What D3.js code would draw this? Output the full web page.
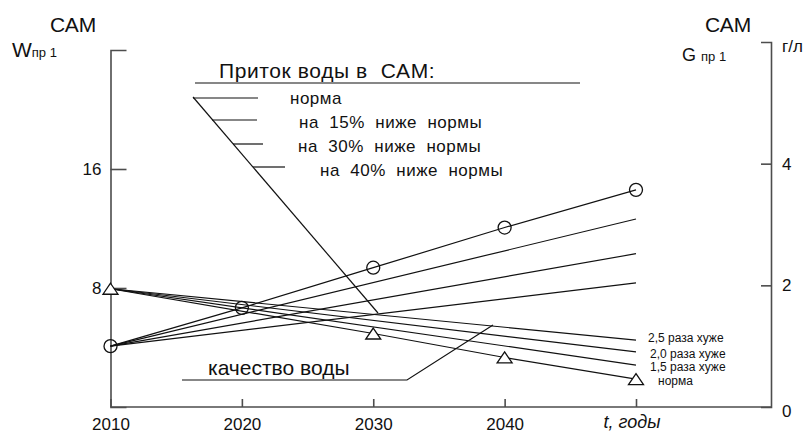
<!DOCTYPE html>
<html><head><meta charset="utf-8">
<script src="https://cdn.jsdelivr.net/npm/d3@7"></script>
<style>
body{margin:0;background:#fff}
svg{display:block;font-family:"Liberation Sans",Arial,sans-serif}
text{white-space:pre;fill:#111}
</style>
</head><body>
<svg id="c" width="806" height="434"></svg>
<script>
// ---- data ----
const years = [2010, 2020, 2030, 2040, 2050];
const xTickLabels = ["2010", "2020", "2030", "2040", ""];
const leftTicks = [8, 16];
const rightTicks = [0, 2, 4];

// rising bundle (G, г/л, right axis) – water inflow scenarios
const inflowLabels = ["норма", "на  15%  ниже  нормы", "на  30%  ниже  нормы", "на  40%  ниже  нормы"];
const gNormaYears = [2010, 2020, 2030, 2040, 2050];
const gNorma = [1.00, 1.63, 2.29, 2.95, 3.57];
const gEndYears = [2010, 2050];
const g15 = [1.00, 3.09];
const g30 = [1.00, 2.52];
const g40 = [1.00, 2.04];

// falling bundle (W, left axis) – water quality scenarios
const qualityLabels = ["2,5 раза хуже", "2,0 раза хуже", "1,5 раза хуже", "норма"];
const wEndYears = [2010, 2050];
const w25 = [7.95, 4.50];
const w20 = [7.95, 3.70];
const w15 = [7.95, 2.82];
const wNormaYears = [2010, 2030, 2040, 2050];
const wNorma = [7.95, 4.94, 3.33, 1.88];

// ---- layout ----
const svg = d3.select("#c");
const X0 = 110.5, XR = 771, YB = 407;
const x = d3.scaleLinear().domain([2010, 2050]).range([X0, 636]);
const yW = d3.scaleLinear().domain([0, 24]).range([YB, 50]);
const yG = d3.scaleLinear().domain([0, 6]).range([YB, 42]);
const ink = "#111", axisInk = "#4d4d4d";

// left axis
const gl = svg.append("g").attr("transform", `translate(${X0},0)`)
  .call(d3.axisLeft(yW).tickValues(leftTicks).tickFormat(d3.format("d"))
    .tickSizeInner(-16).tickSizeOuter(-16).tickPadding(9));
// right axis
const gr = svg.append("g").attr("transform", `translate(${XR},0)`)
  .call(d3.axisRight(yG).tickValues(rightTicks).tickFormat(d3.format("d"))
    .tickSizeInner(-10).tickSizeOuter(-10).tickPadding(11));
// bottom axis
const gb = svg.append("g").attr("transform", `translate(0,${YB})`)
  .call(d3.axisBottom(x).tickValues(years).tickFormat((d, i) => xTickLabels[i])
    .tickSizeInner(-8).tickSizeOuter(0).tickPadding(11));
gb.select(".domain").remove();
svg.append("line").attr("x1", X0).attr("x2", XR).attr("y1", YB).attr("y2", YB)
  .attr("stroke", axisInk).attr("stroke-width", 1.6);

[gl, gr, gb].forEach(g => {
  g.selectAll("path,line").attr("stroke", axisInk).attr("stroke-width", 1.6);
  g.selectAll("text").attr("font-size", 17).attr("font-family", "Liberation Sans, Arial, sans-serif").attr("fill", ink);
});
gr.select(".tick line").attr("stroke", "none");
gr.selectAll(".tick text").filter(d => d === 0).attr("dy", "0.55em");

svg.append("text").attr("x", x(2050) - 4).attr("y", 428).attr("text-anchor", "middle")
  .attr("font-size", 18).attr("font-style", "italic").text("t, годы");

// axis titles
svg.append("text").attr("x", 50).attr("y", 32).attr("font-size", 21).text("САМ");
const wt = svg.append("text").attr("x", 12).attr("y", 57).attr("font-size", 21);
wt.append("tspan").text("W");
wt.append("tspan").attr("font-size", 13).text("пр 1");
svg.append("text").attr("x", 705).attr("y", 32).attr("font-size", 21).text("САМ");
const gt = svg.append("text").attr("x", 682).attr("y", 61).attr("font-size", 18);
gt.append("tspan").text("G ");
gt.append("tspan").attr("font-size", 13).text("пр 1");
svg.append("text").attr("x", 782).attr("y", 52).attr("font-size", 17).text("г/л");

// ---- series ----
const lineG = d3.line().x(d => x(d[0])).y(d => yG(d[1]));
const lineW = d3.line().x(d => x(d[0])).y(d => yW(d[1]));
const gSeries = [[gNormaYears, gNorma], [gEndYears, g15], [gEndYears, g30], [gEndYears, g40]];
const wSeries = [[wEndYears, w25], [wEndYears, w20], [wEndYears, w15], [wNormaYears, wNorma]];
const zip = (a, b) => a.map((v, i) => [v, b[i]]);

gSeries.forEach(([ys, vs]) => svg.append("path").attr("d", lineG(zip(ys, vs)))
  .attr("fill", "none").attr("stroke", ink).attr("stroke-width", 1.2));
wSeries.forEach(([ys, vs]) => svg.append("path").attr("d", lineW(zip(ys, vs)))
  .attr("fill", "none").attr("stroke", ink).attr("stroke-width", 1.2));

// markers
svg.selectAll(".circ").data(zip(gNormaYears, gNorma)).join("circle")
  .attr("cx", d => x(d[0])).attr("cy", d => yG(d[1])).attr("r", 6.5)
  .attr("fill", "none").attr("stroke", ink).attr("stroke-width", 1.3);
svg.selectAll(".tri").data(zip(wNormaYears, wNorma)).join("path")
  .attr("transform", d => `translate(${x(d[0])},${yW(d[1])})`)
  .attr("d", "M0,-5.5L7.5,5.5L-7.5,5.5Z")
  .attr("fill", "#fff").attr("stroke", ink).attr("stroke-width", 1.3);

// ---- legend: inflow ----
svg.append("text").attr("x", 219).attr("y", 78).attr("font-size", 21).attr("letter-spacing", 0.6).text("Приток воды в  САМ:");
svg.append("line").attr("x1", 195).attr("x2", 580).attr("y1", 83).attr("y2", 83).attr("stroke", ink).attr("stroke-width", 1.2);
svg.append("line").attr("x1", 193).attr("y1", 97).attr("x2", 378).attr("y2", 313).attr("stroke", ink).attr("stroke-width", 1.2);
const legRows = [{y: 98, x1: 193, x2: 258, tx: 290, ty: 104},
                 {y: 120, x1: 212, x2: 257, tx: 299, ty: 128},
                 {y: 144, x1: 233, x2: 263, tx: 298, ty: 152},
                 {y: 167, x1: 253, x2: 285, tx: 320, ty: 176}];
inflowLabels.forEach((lab, i) => {
  const r = legRows[i];
  svg.append("line").attr("x1", r.x1).attr("x2", r.x2).attr("y1", r.y).attr("y2", r.y).attr("stroke", ink).attr("stroke-width", 1.2);
  svg.append("text").attr("x", r.tx).attr("y", r.ty).attr("font-size", 17).attr("letter-spacing", 0.5).text(lab);
});

// ---- legend: quality ----
svg.append("text").attr("x", 208).attr("y", 375).attr("font-size", 21).text("качество воды");
svg.append("path").attr("d", "M182,380L407,380L493,325").attr("fill", "none").attr("stroke", ink).attr("stroke-width", 1.2);
const qPos = [{x: 648, y: 342}, {x: 650, y: 357.5}, {x: 650, y: 371}, {x: 658, y: 384.5}];
qualityLabels.forEach((lab, i) => {
  svg.append("text").attr("x", qPos[i].x).attr("y", qPos[i].y).attr("font-size", 12).text(lab);
});
</script>
</body></html>
